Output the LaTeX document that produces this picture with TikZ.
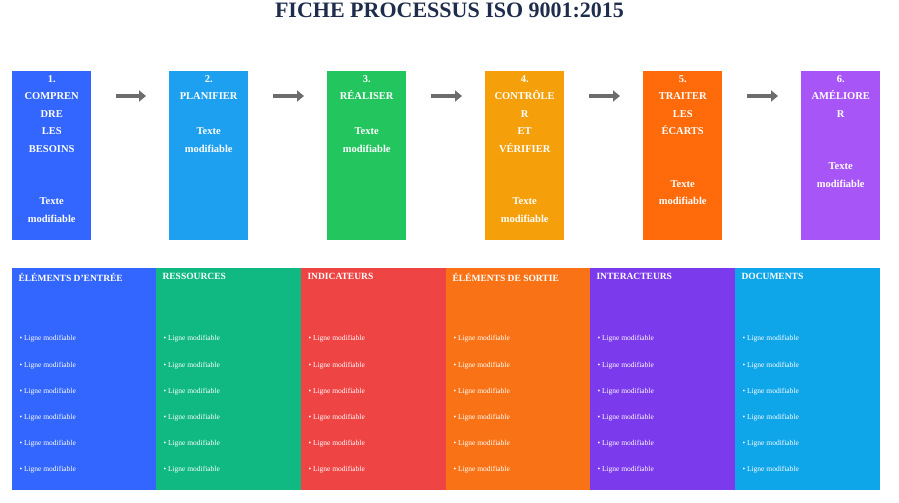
\documentclass[tikz,border=0pt]{standalone}
\usepackage{fontspec}
\setmainfont{Liberation Serif}
\usetikzlibrary{positioning,arrows.meta}
\definecolor{titlenavy}{HTML}{1F2D4D}
\definecolor{cA}{HTML}{3366FF}
\definecolor{cB}{HTML}{1EA0F0}
\definecolor{cC}{HTML}{22C55E}
\definecolor{cD}{HTML}{F5A00B}
\definecolor{cE}{HTML}{FF6A0A}
\definecolor{cF}{HTML}{A855F7}
\definecolor{dA}{HTML}{3366FF}
\definecolor{dB}{HTML}{10B981}
\definecolor{dC}{HTML}{EF4444}
\definecolor{dD}{HTML}{F97316}
\definecolor{dE}{HTML}{7C3AED}
\definecolor{dF}{HTML}{0EA5E9}
\tikzset{
  stepcard/.style={minimum width=79pt,minimum height=169pt,anchor=north west,inner sep=0pt},
  steptext/.style={anchor=north,align=center,text=white,font=\bfseries\fontsize{10.5}{17.5}\selectfont},
  col/.style={minimum width=145pt,minimum height=222pt,anchor=north west,inner sep=0pt},
  colhead/.style={anchor=north west,text=white,font=\bfseries\fontsize{9.5}{11}\selectfont},
  bullet/.style={anchor=west,text=white,font=\fontsize{7.5}{9}\selectfont},
  flow/.style={-{Triangle[length=7pt,width=11pt]},line width=3.5pt,color=gray!85!black,shorten <=25pt,shorten >=23pt}
}
\begin{document}
\begin{tikzpicture}[x=1pt,y=-1pt]
	\useasboundingbox (0,0) rectangle (899,503);
	\node[font=\bfseries\fontsize{22}{24}\selectfont,text=titlenavy] (title) at (449.5,10) {FICHE PROCESSUS ISO 9001:2015};
	
	% step cards
	\foreach \i/\x/\c/\t in {1/12/cA/{1.\\COMPREN\\DRE\\LES\\BESOINS\\\\\\Texte\\modifiable},
		2/169/cB/{2.\\PLANIFIER\\\\Texte\\modifiable},
		3/327/cC/{3.\\RÉALISER\\\\Texte\\modifiable},
		4/485/cD/{4.\\CONTRÔLE\\R\\ET\\VÉRIFIER\\\\\\Texte\\modifiable},
		5/643/cE/{5.\\TRAITER\\LES\\ÉCARTS\\\\\\Texte\\modifiable},
		6/801/cF/{6.\\AMÉLIORE\\R\\\\\\Texte\\modifiable}}{
		\node[stepcard,fill=\c] (b\i) at (\x,71) {};
		\node[steptext] (t\i) at ([yshift=-1pt]b\i.north) {\t};
	}
	\foreach \i [evaluate=\i as \j using int(\i+1)] in {1,...,5}
		\draw[flow] ([yshift=-25pt]b\i.north east) -- ([yshift=-25pt]b\j.north west);
	
	% bottom columns
	\foreach \k/\x/\c/\h in {1/12/dA/ÉLÉMENTS D'ENTRÉE,2/156/dB/RESSOURCES,3/301/dC/INDICATEURS,
		4/446/dD/ÉLÉMENTS DE SORTIE,5/590/dE/INTERACTEURS,6/735/dF/DOCUMENTS}{
		\node[col,fill=\c] (c\k) at (\x,268) {};
		\node[colhead] (h\k) at ([xshift=3pt,yshift=-2pt]c\k.north west) {\h};
		\foreach \n/\y in {1/339,2/366,3/392,4/418,5/444,6/470}
			\node[bullet] (l\k\n) at (\x+4,\y) {• Ligne modifiable};
	}
\end{tikzpicture}
\end{document}
